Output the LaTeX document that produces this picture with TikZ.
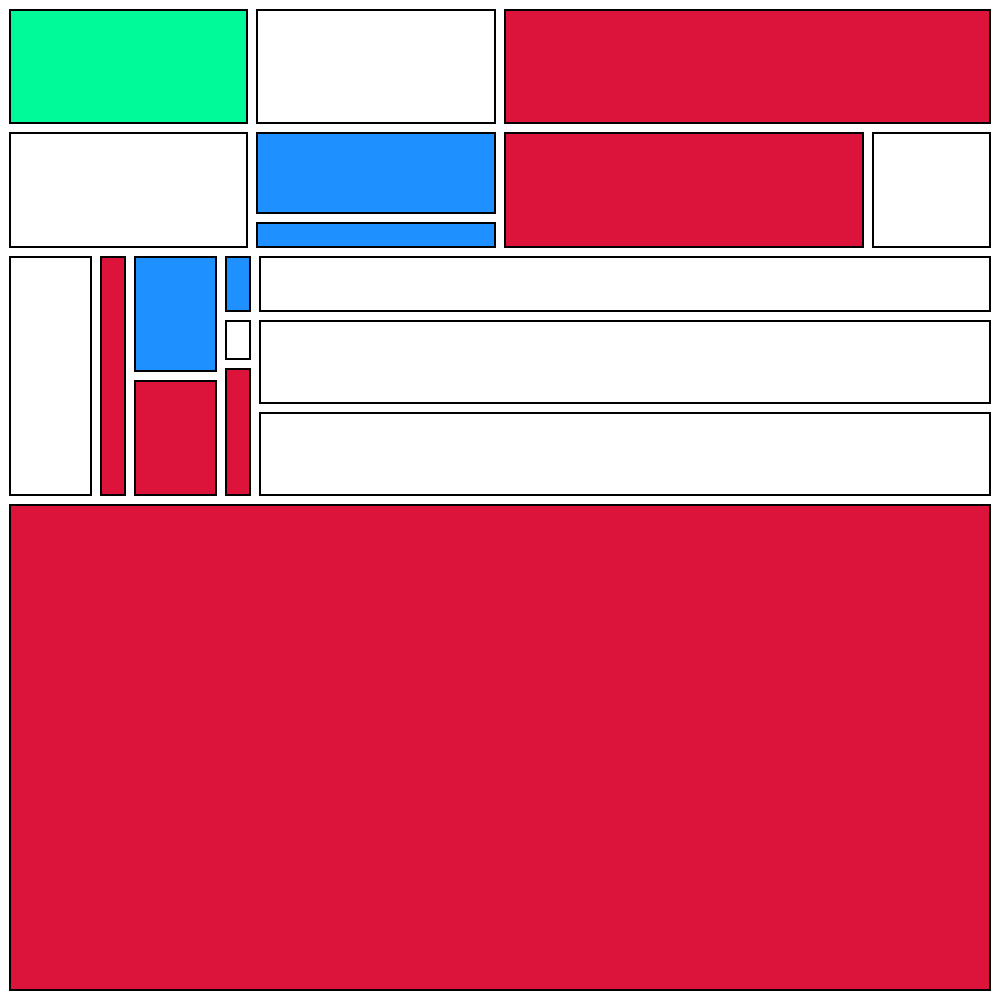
\documentclass[tikz,border=0pt]{standalone}
\definecolor{cgreen}{HTML}{00FA9A}
\definecolor{cblue}{HTML}{1E90FF}
\definecolor{cred}{HTML}{DC143C}
\tikzset{
  cell/.style={draw=black, line width=0.2mm},
  wcell/.style={cell, fill=white},
  gcell/.style={cell, fill=cgreen},
  bcell/.style={cell, fill=cblue},
  rcell/.style={cell, fill=cred}
}
\begin{document}
\begin{tikzpicture}[x=0.1mm, y=-0.1mm]
\fill[white] (0,0) rectangle (1000,1000);
\useasboundingbox (0,0) rectangle (1000,1000);
% row 1
\draw[gcell] (10,10) rectangle (247,123);
\draw[wcell] (257,10) rectangle (495,123);
\draw[rcell] (505,10) rectangle (990,123);
% row 2
\draw[wcell] (10,133) rectangle (247,247);
\draw[bcell] (257,133) rectangle (495,213);
\draw[bcell] (257,223) rectangle (495,247);
\draw[rcell] (505,133) rectangle (863,247);
\draw[wcell] (873,133) rectangle (990,247);
% row 3
\draw[wcell] (10,257) rectangle (91,495);
\draw[rcell] (101,257) rectangle (125,495);
\draw[bcell] (135,257) rectangle (216,371);
\draw[rcell] (135,381) rectangle (216,495);
\draw[bcell] (226,257) rectangle (250,311);
\draw[wcell] (226,321) rectangle (250,359);
\draw[rcell] (226,369) rectangle (250,495);
\draw[wcell] (260,257) rectangle (990,311);
\draw[wcell] (260,321) rectangle (990,403);
\draw[wcell] (260,413) rectangle (990,495);
% bottom
\draw[rcell] (10,505) rectangle (990,990);
\end{tikzpicture}
\end{document}
